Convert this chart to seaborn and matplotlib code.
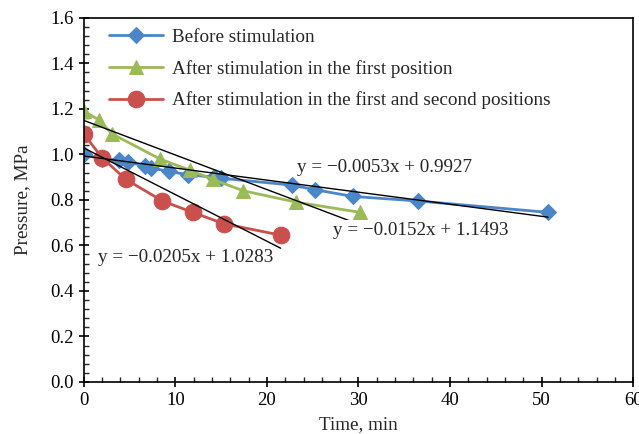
import matplotlib
matplotlib.use("Agg")
import matplotlib.pyplot as plt
import seaborn as sns
import pandas as pd
import numpy as np
from matplotlib.ticker import MultipleLocator

sns.set_theme(style="ticks")
plt.rcParams['font.family'] = ['Liberation Serif', 'DejaVu Serif']

# Data
before_t = [0, 2.0, 3.8, 4.8, 6.7, 7.4, 9.3, 11.4, 14.2, 15.0, 22.7, 25.2, 29.4, 36.5, 50.7]
before_p = [1.00, 0.98, 0.975, 0.965, 0.95, 0.94, 0.925, 0.91, 0.90, 0.895, 0.865, 0.845, 0.815, 0.795, 0.745]

first_t = [0, 1.7, 3.1, 8.3, 11.6, 14.1, 17.4, 23.2, 30.2]
first_p = [1.19, 1.15, 1.09, 0.98, 0.93, 0.89, 0.84, 0.79, 0.745]

second_t = [0, 2.0, 4.6, 8.6, 11.9, 15.3, 21.5]
second_p = [1.09, 0.985, 0.89, 0.795, 0.745, 0.695, 0.645]

labels = ["Before stimulation",
          "After stimulation in the first position",
          "After stimulation in the first and second positions"]
colors = ["#4A86C8", "#9BBB59", "#C9504D"]
markers = ["D", "^", "o"]
msizes = [8, 10, 12]

# Trend lines: slope, intercept, x range end
trend_slope = [-0.0053, -0.0152, -0.0205]
trend_icpt = [0.9927, 1.1493, 1.0283]
trend_end = [50.7, 29.8, 21.5]
eq_text = ["y = \u22120.0053x + 0.9927",
           "y = \u22120.0152x + 1.1493",
           "y = \u22120.0205x + 1.0283"]
eq_pos = [(23.3, 0.94), (27.2, 0.665), (1.6, 0.545)]

fig, ax = plt.subplots(figsize=(6.39, 4.34), dpi=100)
fig.subplots_adjust(left=0.131, right=0.991, bottom=0.12, top=0.959)

series = [(before_t, before_p), (first_t, first_p), (second_t, second_p)]
for (t, p), lab, c, m, ms in zip(series, labels, colors, markers, msizes):
    df = pd.DataFrame({"t": t, "p": p})
    sns.lineplot(data=df, x="t", y="p", ax=ax, color=c, marker=m,
                 markersize=ms, markeredgecolor=c, linewidth=2.0,
                 label=lab, sort=False)

for s, b, e in zip(trend_slope, trend_icpt, trend_end):
    xs = np.array([0, e])
    tdf = pd.DataFrame({"t": xs, "p": s * xs + b})
    sns.lineplot(data=tdf, x="t", y="p", ax=ax, color="black",
                 linewidth=1.0, legend=False)

for txt, (x, y) in zip(eq_text, eq_pos):
    ax.text(x, y, txt, fontsize=13.8, ha="left", va="center",
            bbox=dict(facecolor="white", edgecolor="none", pad=1.5))

ax.set_xlim(0, 60)
ax.set_ylim(0, 1.6)
ax.xaxis.set_major_locator(MultipleLocator(10))
ax.xaxis.set_minor_locator(MultipleLocator(2))
ax.yaxis.set_major_locator(MultipleLocator(0.2))
ax.yaxis.set_minor_locator(MultipleLocator(0.04))
ax.yaxis.set_major_formatter(matplotlib.ticker.FormatStrFormatter('%.1f'))
ax.tick_params(which="major", direction="inout", length=7, width=1.2,
               labelsize=13.5, colors="black")
ax.tick_params(which="minor", direction="in", length=3.5, width=1.0)
ax.tick_params(axis="x", pad=4)
for sp in ax.spines.values():
    sp.set_linewidth(1.2)
    sp.set_color("black")
ax.set_xlabel("Time, min", fontsize=13.8, labelpad=5)
ax.set_ylabel("Pressure, MPa", fontsize=13.8, labelpad=14)

leg = ax.legend(loc="upper left", bbox_to_anchor=(0.015, 1.018), frameon=False,
                fontsize=13.8, handlelength=2.8, labelspacing=0.72,
                handletextpad=0.5)

fig.savefig("out.png", dpi=100)
